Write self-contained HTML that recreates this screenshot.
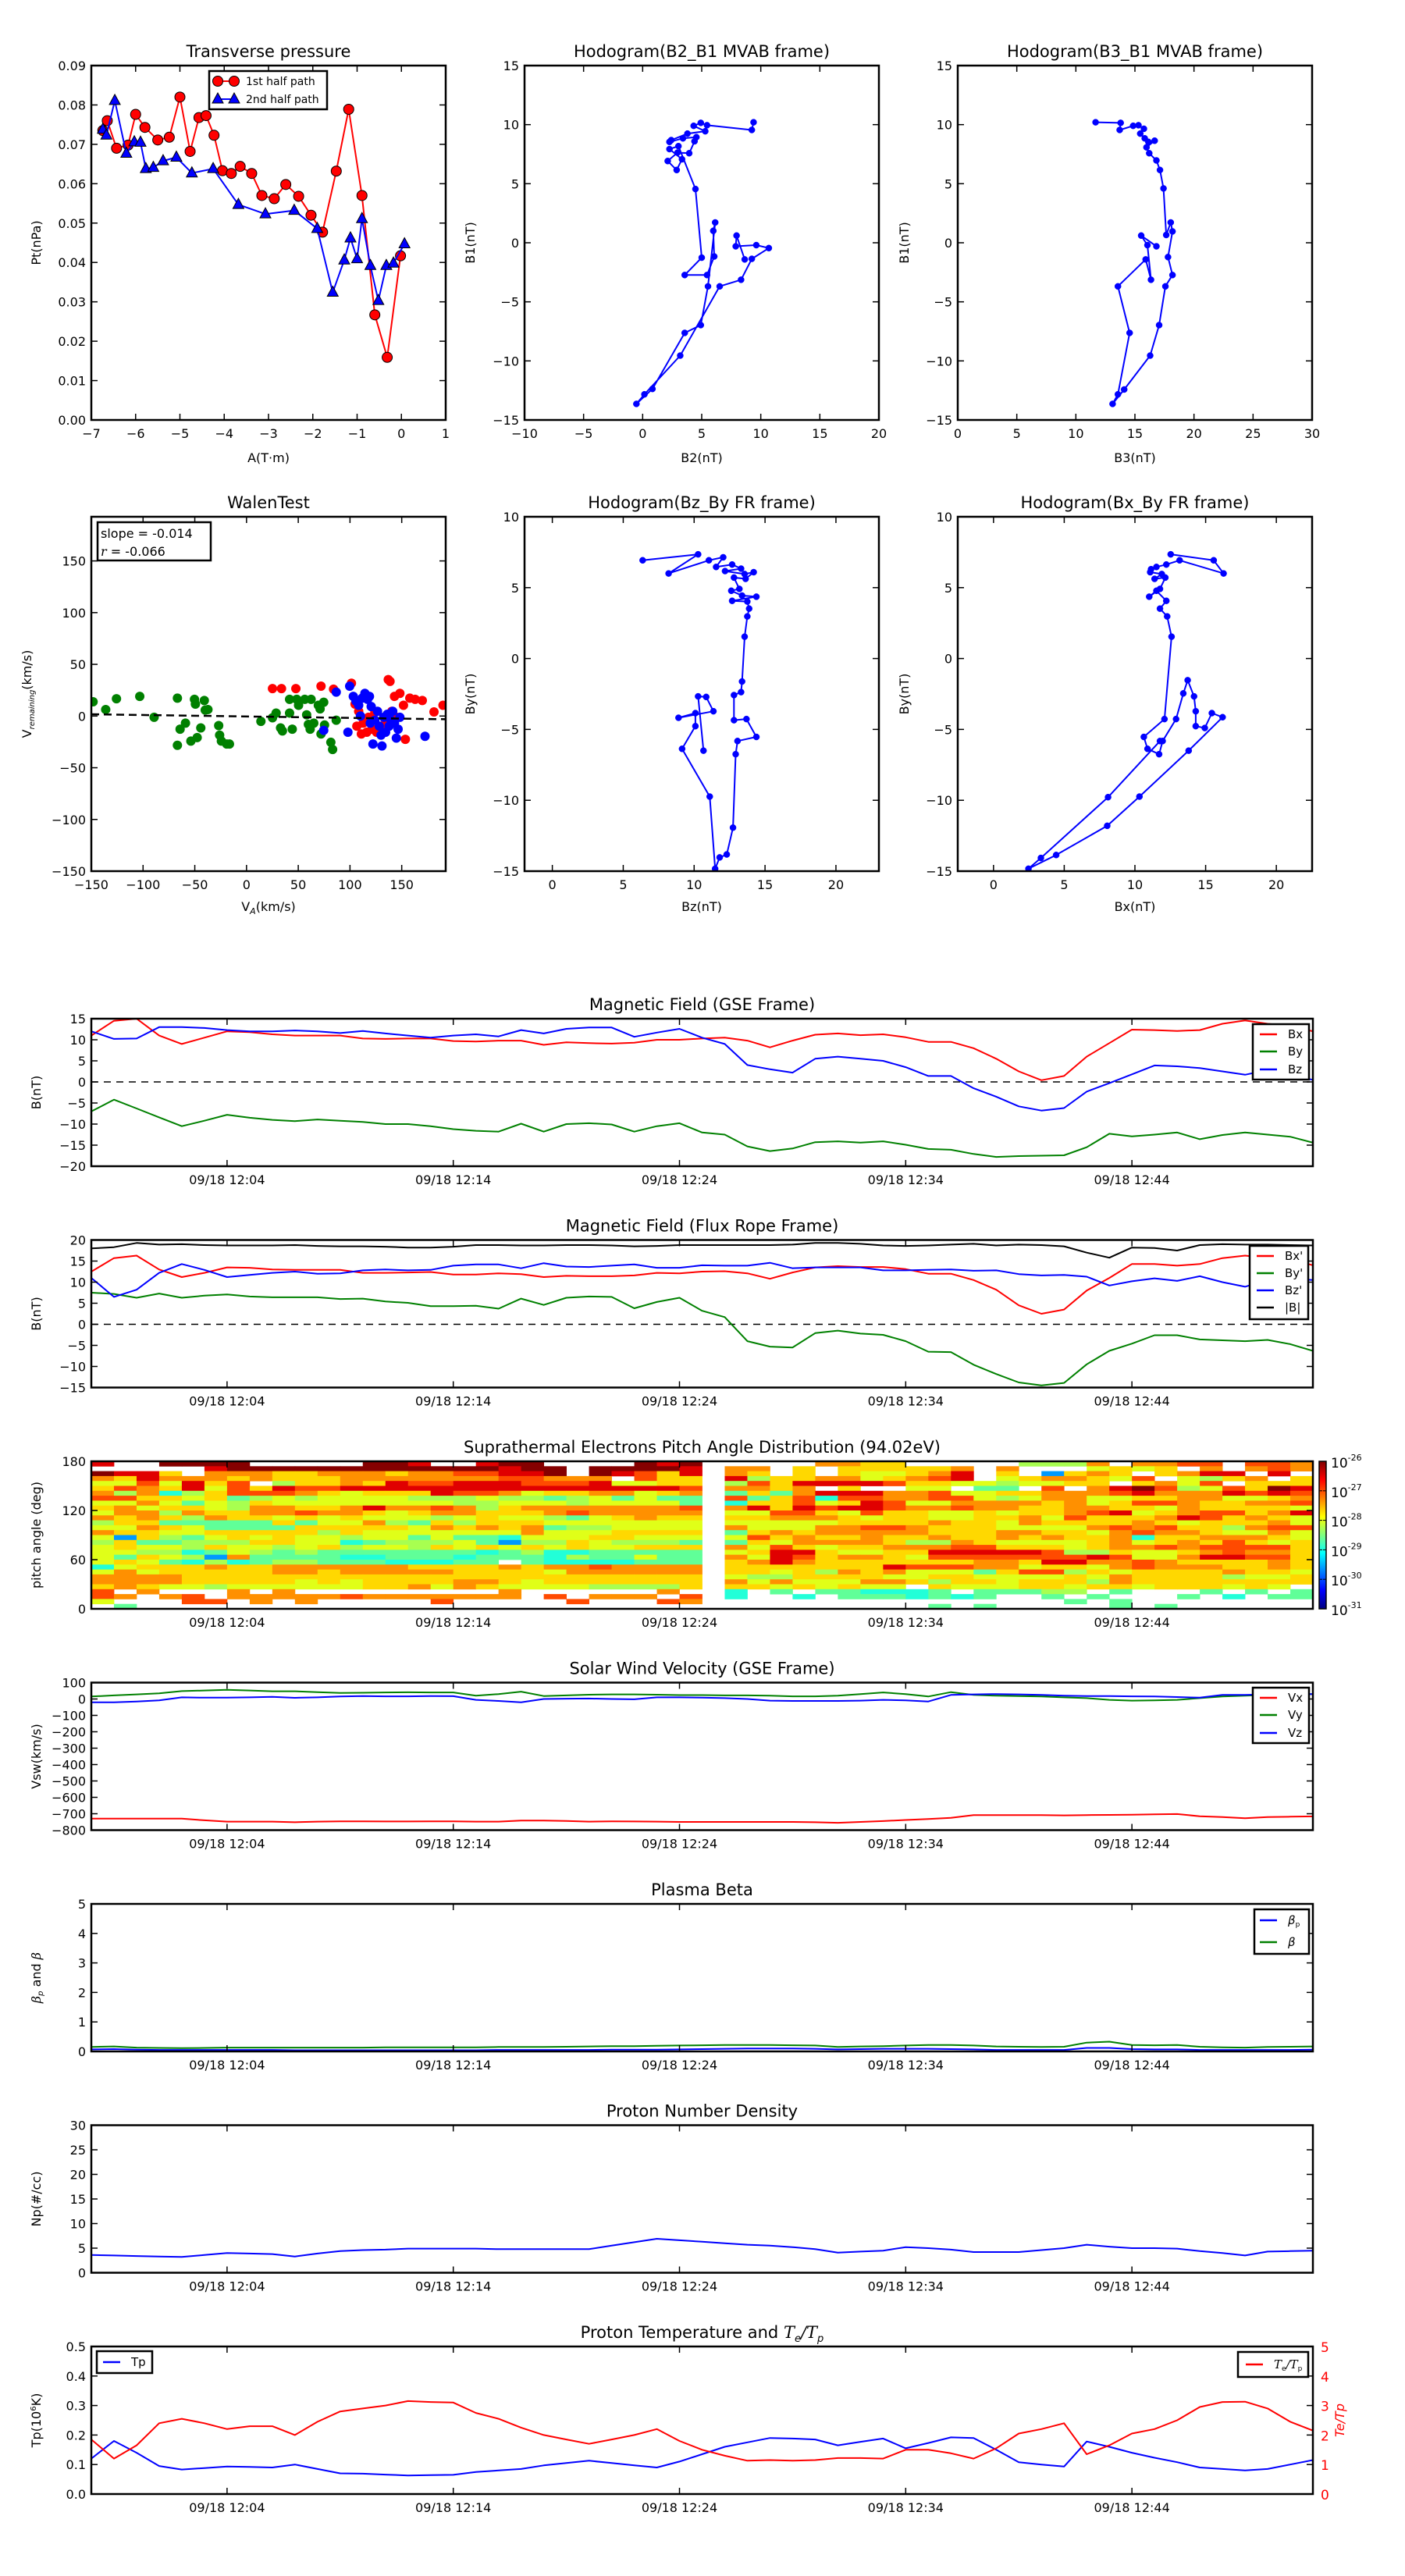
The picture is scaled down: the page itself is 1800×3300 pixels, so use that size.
<!DOCTYPE html>
<html><head><meta charset="utf-8"><title>Flux rope analysis</title>
<style>
html,body{margin:0;padding:0;background:#fff;}
svg{display:block;}
text{font-family:"DejaVu Sans","Liberation Sans",sans-serif;}
</style></head>
<body>
<svg id="fig" xmlns="http://www.w3.org/2000/svg" width="1800" height="3300" viewBox="0 0 1800 3300">
<rect x="0" y="0" width="1800" height="3300" fill="#fff"/>
</svg>
<script>
// ===== DATA =====
// transverse pressure
const ptA1=[-6.74,-6.64,-6.43,-6.17,-6.0,-5.79,-5.5,-5.24,-5.0,-4.77,-4.57,-4.41,-4.23,-4.04,-3.84,-3.64,-3.38,-3.15,-2.87,-2.61,-2.32,-2.04,-1.78,-1.47,-1.19,-0.89,-0.6,-0.32,-0.02];
const ptP1=[0.0735,0.076,0.069,0.0698,0.0776,0.0743,0.0711,0.0718,0.082,0.0682,0.0768,0.0773,0.0723,0.0633,0.0626,0.0644,0.0626,0.057,0.0562,0.0598,0.0568,0.052,0.0477,0.0632,0.0789,0.057,0.0267,0.0159,0.0417];
const ptA2=[-6.74,-6.66,-6.47,-6.21,-6.03,-5.89,-5.77,-5.6,-5.38,-5.08,-4.73,-4.25,-3.68,-3.07,-2.42,-1.9,-1.55,-1.29,-1.15,-1.0,-0.89,-0.7,-0.52,-0.34,-0.18,0.07];
const ptP2=[0.0738,0.0723,0.0811,0.0677,0.0706,0.0705,0.0638,0.0641,0.0658,0.0667,0.0627,0.0638,0.0547,0.0523,0.0532,0.0486,0.0324,0.0406,0.0462,0.0409,0.0511,0.0392,0.0303,0.0392,0.0398,0.0447];
// hodogram B2-B1
const h1B2=[9.39,9.24,5.45,4.92,4.32,5.3,3.79,2.42,2.27,3.41,4.55,4.39,3.94,2.95,2.12,2.88,3.33,2.27,3.03,4.47,5.0,3.56,5.45,6.06,5.98,6.14,5.53,4.92,3.56,0.83,-0.53,0.15,3.18,6.52,8.33,9.24,10.68,9.62,7.88,7.95,8.64];
const h1B1=[10.2,9.55,9.95,10.15,9.9,9.44,9.24,8.69,8.54,8.84,8.94,8.59,7.58,7.63,6.92,6.16,7.07,7.93,8.18,4.55,-1.26,-2.73,-2.73,-1.16,1.01,1.72,-3.69,-6.97,-7.63,-12.37,-13.64,-12.83,-9.55,-3.69,-3.13,-1.36,-0.45,-0.2,-0.3,0.61,-1.41];
// hodogram B3-B1
const h2B3=[11.67,13.79,13.71,14.85,15.3,15.76,15.45,15.83,16.14,16.67,15.98,16.21,16.82,17.12,17.42,17.65,18.03,18.18,17.8,18.18,17.58,17.05,16.29,14.09,13.11,13.56,14.55,13.56,15.91,16.36,16.06,15.53,16.82];
const h2B1=[10.2,10.15,9.55,9.9,9.95,9.65,9.24,8.84,8.54,8.64,8.08,7.58,6.97,6.16,4.6,0.66,1.72,0.96,-1.21,-2.73,-3.69,-6.97,-9.55,-12.42,-13.64,-12.83,-7.63,-3.69,-1.41,-3.13,-0.2,0.61,-0.3];
// walen test
const wGx=[-148.3,-136.1,-125.7,-103.2,-89.3,-66.8,-64.2,-66.8,-59.0,-53.8,-50.3,-49.4,-47.7,-44.2,-40.8,-39.9,-37.3,-26.9,-26.0,-24.3,-19.1,-16.5,13.9,25.1,28.6,32.9,34.7,41.6,41.6,44.2,48.5,50.3,56.3,58.1,59.8,61.5,62.4,65.0,69.4,71.1,72.0,74.6,75.4,81.5,83.2,86.7];
const wGy=[13.8,6.3,16.7,19.0,-1.2,17.3,-12.7,-28.3,-6.9,-24.2,16.2,11.5,-20.8,-11.5,15.0,5.8,6.3,-9.2,-18.5,-24.2,-27.1,-27.1,-5.2,-1.7,2.9,-11.5,-14.4,16.2,2.9,-12.7,16.2,10.4,16.2,1.2,-8.1,-12.7,16.2,-6.9,10.4,6.9,-17.3,13.3,-8.7,-25.4,-32.3,-4.0];
const wRx=[25.1,33.8,47.7,72.0,84.1,101.4,104.9,108.4,106.6,111.0,112.7,116.2,117.9,121.4,124.0,125.7,130.0,134.4,137.0,138.7,140.4,143.0,144.8,148.2,151.7,153.5,157.8,163.0,169.9,181.2,189.9];
const wRy=[26.5,26.5,26.5,28.9,26.0,31.7,11.5,4.6,-9.8,-17.3,-6.9,-15.6,-1.2,-12.7,3.5,-15.6,-9.8,-6.9,35.2,33.5,4.6,19.0,-1.2,21.9,10.4,-22.5,17.3,16.2,15.0,4.0,10.4];
const wBx=[74.6,86.7,98.0,99.7,103.2,105.8,108.4,110.1,111.8,114.4,117.0,118.8,119.6,120.5,122.2,124.0,126.6,128.3,130.0,130.9,132.6,134.4,136.1,137.8,139.6,141.3,143.0,144.8,146.5,148.2,172.5];
const wBy=[-13.8,23.1,-15.6,28.9,19.0,14.4,10.4,0,17.3,21.9,16.2,19.0,-6.9,9.2,-27.1,-4.0,4.6,-9.8,-18.5,-28.9,-1.2,-15.6,1.7,-9.8,-4.0,4.6,-6.9,-21.3,-12.7,-1.2,-19.6];
const walenSlope=-0.014, walenIntercept=-0.4;
// hodogram Bz-By (FR)
const h3Bz=[6.37,10.28,8.2,11.04,12.05,11.55,12.68,13.31,12.18,13.56,14.2,13.63,12.81,13.19,12.62,13.38,14.39,12.68,13.75,13.88,13.75,13.56,13.38,13.31,12.81,12.81,13.69,14.39,13.06,12.93,12.74,12.3,11.8,11.48,11.1,9.15,10.09,10.09,8.9,11.36,10.85,10.28,10.66];
const h3By=[6.93,7.35,6.0,6.93,7.14,6.46,6.63,6.34,6.17,5.96,6.09,5.62,5.71,4.91,4.78,4.44,4.36,4.07,4.02,3.52,2.97,1.54,-1.62,-2.37,-2.58,-4.35,-4.27,-5.53,-5.82,-6.75,-11.93,-13.82,-14.03,-14.83,-9.74,-6.37,-4.77,-3.85,-4.18,-3.72,-2.71,-2.67,-6.5];
// hodogram Bx-By (FR)
const h4Bx=[12.53,15.57,16.27,13.16,12.22,11.52,11.14,11.08,11.9,11.39,12.15,11.77,11.01,11.52,12.22,11.77,12.28,12.59,12.09,10.63,10.89,11.71,11.96,12.91,13.42,13.73,14.18,14.3,14.3,14.94,15.44,16.2,13.8,10.32,8.04,4.43,2.47,3.35,8.1,11.77];
const h4By=[7.35,6.93,6.0,6.93,6.63,6.46,6.3,6.09,5.96,5.62,5.71,4.91,4.36,4.78,4.07,3.52,2.97,1.54,-4.27,-5.53,-6.37,-6.75,-5.82,-4.27,-2.46,-1.53,-2.67,-3.72,-4.77,-4.9,-3.85,-4.14,-6.5,-9.74,-11.8,-13.86,-14.83,-14.07,-9.78,-5.82];
// time series (1-min samples from 11:58)
const timeTickMin=[6,16,26,36,46];
const timeTickLabels=['09/18 12:04','09/18 12:14','09/18 12:24','09/18 12:34','09/18 12:44'];
const gseBx=[11,14.5,15,11,9,10.5,12,11.8,11.3,11,11,11,10.3,10.2,10.3,10.3,9.7,9.6,9.8,9.8,8.8,9.4,9.2,9.1,9.3,10,10,10.3,10.5,9.8,8.2,9.8,11.2,11.5,11.1,11.3,10.6,9.5,9.5,8,5.5,2.5,0.4,1.4,6,9.2,12.4,12.3,12.1,12.3,13.8,14.6,13.8,13.3,12];
const gseBy=[-7,-4.2,-6.3,-8.4,-10.5,-9.2,-7.8,-8.5,-9,-9.3,-8.9,-9.2,-9.5,-10,-10,-10.5,-11.2,-11.6,-11.8,-9.9,-11.8,-10,-9.8,-10.1,-11.8,-10.5,-9.8,-12,-12.5,-15.3,-16.4,-15.8,-14.3,-14.1,-14.4,-14.1,-14.9,-15.9,-16.1,-17.1,-17.8,-17.6,-17.5,-17.4,-15.5,-12.3,-12.9,-12.5,-12,-13.6,-12.6,-12,-12.5,-13,-14.4];
const gseBz=[12,10.2,10.3,13,13,12.8,12.3,12,12,12.2,12,11.6,12.1,11.5,11,10.5,11,11.3,10.8,12.3,11.5,12.6,12.9,12.9,10.7,11.7,12.6,10.5,9,4,3,2.2,5.5,6,5.5,5,3.5,1.4,1.4,-1.5,-3.5,-5.8,-6.8,-6.2,-2.3,-0.3,1.8,3.9,3.7,3.3,2.5,1.7,2.8,1.5,0.5];
const frBx=[12.5,15.7,16.3,13,11.2,12.2,13.5,13.4,13,12.9,12.9,12.9,12.2,12.2,12.3,12.4,11.8,11.8,12.1,11.9,11.2,11.5,11.4,11.4,11.6,12.2,12.1,12.5,12.6,12.1,10.8,12.3,13.5,13.8,13.6,13.6,13.1,12,12,10.5,8.2,4.5,2.5,3.5,8,11,14.3,14.3,13.9,14.3,15.7,16.3,15.7,15.5,14];
const frBy=[7.5,7.2,6.3,7.3,6.3,6.8,7.1,6.6,6.4,6.4,6.4,6,6.1,5.4,5.1,4.3,4.3,4.4,3.7,6.1,4.6,6.3,6.6,6.5,3.8,5.3,6.3,3.2,1.7,-4,-5.3,-5.5,-2.1,-1.5,-2.2,-2.5,-4,-6.5,-6.6,-9.6,-11.8,-13.8,-14.5,-13.9,-9.5,-6.3,-4.6,-2.6,-2.6,-3.6,-3.8,-4,-3.7,-4.7,-6.3];
const frBz=[11,6.5,8.2,12.2,14.3,12.9,11.2,11.7,12.2,12.5,12,12.1,12.8,13,12.8,12.9,13.9,14.2,14.2,13.3,14.5,13.7,13.6,13.9,14.2,13.4,13.4,14,13.9,13.9,14.6,13.3,13.5,13.5,13.5,12.8,12.8,12.9,13,12.7,12.8,11.9,11.6,11.7,11.3,9.2,10.2,10.9,10.3,11.4,10,8.9,10.6,10.8,10.5];
const frBt=[18,18.3,19.3,18.9,19,18.8,18.7,18.7,18.7,18.8,18.6,18.5,18.5,18.4,18.2,18.2,18.4,18.8,18.8,18.7,18.7,18.8,18.8,18.7,18.5,18.6,18.8,18.8,18.8,18.8,18.8,18.9,19.3,19.3,19.1,18.7,18.6,18.7,18.9,19.1,18.7,18.9,18.8,18.5,17,15.8,18.2,18.1,17.5,18.8,19,18.9,18.9,18.8,18.7];
const vx=[-730,-730,-730,-730,-730,-740,-748,-748,-748,-752,-748,-746,-746,-747,-747,-746,-746,-748,-748,-742,-742,-744,-748,-746,-747,-748,-750,-750,-750,-750,-750,-750,-752,-755,-750,-745,-738,-732,-725,-708,-708,-708,-708,-710,-708,-707,-706,-704,-702,-715,-720,-727,-720,-718,-716];
const vy=[15,22,28,35,48,52,56,52,47,47,42,37,38,40,41,40,40,20,30,45,18,22,26,28,28,26,24,24,22,22,20,16,16,20,30,40,30,15,42,25,20,18,15,10,5,-5,-10,-8,-5,5,15,20,25,28,30];
const vz=[-20,-20,-15,-8,10,8,8,10,13,7,10,15,18,16,16,18,17,-5,-12,-20,0,2,3,0,-2,10,10,8,5,0,-10,-12,-12,-12,-10,-5,-8,-15,25,28,30,28,25,20,18,18,16,15,12,8,25,25,28,30,30];
const betaP=[0.07,0.08,0.06,0.05,0.05,0.05,0.05,0.05,0.05,0.04,0.04,0.04,0.04,0.04,0.04,0.04,0.04,0.04,0.05,0.05,0.05,0.05,0.05,0.06,0.06,0.06,0.07,0.08,0.09,0.1,0.1,0.1,0.09,0.07,0.08,0.09,0.09,0.09,0.08,0.07,0.05,0.05,0.05,0.05,0.12,0.12,0.08,0.07,0.07,0.05,0.05,0.05,0.05,0.05,0.06];
const betaT=[0.15,0.17,0.13,0.12,0.11,0.12,0.13,0.13,0.13,0.13,0.13,0.13,0.13,0.14,0.14,0.14,0.14,0.14,0.15,0.15,0.15,0.16,0.17,0.18,0.18,0.19,0.2,0.21,0.22,0.22,0.22,0.21,0.2,0.15,0.17,0.18,0.2,0.22,0.22,0.2,0.17,0.16,0.15,0.16,0.3,0.33,0.22,0.21,0.22,0.16,0.14,0.13,0.15,0.16,0.17];
const np=[3.6,3.5,3.4,3.3,3.2,3.6,4.0,3.9,3.8,3.3,3.9,4.4,4.6,4.7,4.9,4.9,4.9,4.9,4.8,4.8,4.8,4.8,4.8,5.5,6.2,6.9,6.6,6.3,6.0,5.7,5.5,5.2,4.8,4.1,4.3,4.5,5.2,5.0,4.7,4.2,4.2,4.2,4.6,5.0,5.7,5.3,5.0,5.0,4.9,4.4,4.0,3.5,4.3,4.4,4.5];
const tp=[0.12,0.18,0.14,0.095,0.083,0.088,0.093,0.092,0.09,0.1,0.085,0.07,0.069,0.066,0.063,0.064,0.065,0.075,0.08,0.085,0.097,0.105,0.113,0.105,0.097,0.09,0.11,0.135,0.16,0.175,0.19,0.188,0.185,0.165,0.177,0.188,0.155,0.173,0.192,0.19,0.15,0.108,0.1,0.093,0.178,0.16,0.14,0.123,0.108,0.09,0.085,0.08,0.085,0.1,0.115];
const teTp=[1.85,1.2,1.65,2.4,2.55,2.4,2.2,2.3,2.3,2.0,2.45,2.8,2.9,3.0,3.15,3.12,3.1,2.75,2.55,2.25,2.0,1.85,1.7,1.85,2.0,2.2,1.8,1.5,1.3,1.13,1.15,1.13,1.15,1.22,1.22,1.2,1.5,1.5,1.38,1.2,1.55,2.05,2.2,2.4,1.35,1.65,2.05,2.2,2.5,2.95,3.12,3.13,2.9,2.45,2.15];
// pitch-angle distribution: 30 rows (top=174-180 deg), 54 minute columns; '.'=no data, 0..9,a = log-flux level
const padRows=[
"9..aaaa.....aa9..9aa....a9a|....7766.....4447.7788.887",
".....9aaaaaaaaaaaa9aa.aaaa9|77.6.666667.7...5656.7.787",
"a996.777667776778899a.a9869|76.6.655679.6.1676.6799.9.",
"76977767666777777788777.866|94667756789.5677658.5467.6",
"5585968.4667698899988895566|48699998665545566.6758.666",
"687695869889999999999999998|7767.6..55.33.8.79a84586a9",
"747246888765666988756677567|36379997785566777897779898",
"886656345455554445443453533|83682887788545775566775567",
"557535465555555544555455553|26685698557777675688766778",
"675665477667977874677777778|79698998778776677665766665",
"577476677877656776667877777|55886586655656678956788679",
"767647665656555456554356766|66777656655667586667986765",
"466333336355743646665555555|55555666676657666676566675",
"557653333666665767673445555|75557788766655557878664788",
"766556666646555555575556666|36767777766677665787765575",
"516435656554553533255566555|58676676676676766726677765",
"463344466552344453144654443|36577776447655556756768656",
"565546554564554656565655666|75865667778866656778788886",
"554423543433333332342233333|56996556699999844655678776",
"536541733332233323332433533|75986776588888889855799886",
"565324234433322233.32222333|67976666666776997787666676",
"256667667777776666767787777|66666669888775665787776676",
"575666667767777766665777777|66564767555368846566667665",
"777766666666666666666666666|54466665566555565766664556",
"777766666565666677656666666|75755577646656664766666666",
"676554555555667576555544446|66565655.6555665665666565",
"8.7...7.7.........7......7.|2.3.332223.33344.3...3.3.3",
"87.78.7777787777777.8.777.8|2..2.3332323..3.3...3.2.33",
"5...88.7.7.....8.....8...87|...............3.3........",
".3.........................|.........3.3.....3.3......."
];
const padLevelColors=['#0030ff','#0099ff','#22ffd8','#60ff98','#a8ff50','#e0ff18','#ffd800','#ff9000','#ff4a00','#e00000','#850000'];

// ===== HELPERS =====
const svg=document.getElementById('fig');
const NS='http://www.w3.org/2000/svg';
function mk(tag,attrs,parent){const e=document.createElementNS(NS,tag);for(const k in attrs)e.setAttribute(k,attrs[k]);(parent||svg).appendChild(e);return e;}
function lin(d0,d1,r0,r1){return v=>r0+(v-d0)*(r1-r0)/(d1-d0);}
function neg(v,d){const s=(d===undefined)?String(Math.abs(v)):Math.abs(v).toFixed(d);return (v<0?'\u2212':'')+s;}
function txt(s,x,y,size,anchor,parent,fill){const t=mk('text',{x:x,y:y,'font-size':size,'text-anchor':anchor||'start',fill:fill||'#000'},parent);t.textContent=s;return t;}
function range(a,b,st){const r=[];for(let v=a;v<=b+1e-9;v+=st)r.push(Math.round(v*1000)/1000);return r;}
let clipId=0;
function makeAxes(name,x0,y0,x1,y1,xd,yd){
  const g=mk('g',{});
  
  
  const cp=mk('clipPath',{id:'cp'+(++clipId)},g);
  mk('rect',{x:x0,y:y0,width:x1-x0,height:y1-y0},cp);
  const dg=mk('g',{'clip-path':'url(#cp'+clipId+')'},g);
  
  
  return {g:g,dg:dg,x0:x0,y0:y0,x1:x1,y1:y1,sx:lin(xd[0],xd[1],x0,x1),sy:lin(yd[0],yd[1],y1,y0)};
}
function ticks(ax,xt,xl,yt,yl,opt){
  opt=opt||{};
  xt.forEach((v,i)=>{const x=ax.sx(v);
    mk('line',{x1:x,x2:x,y1:ax.y1,y2:ax.y1-8,stroke:'#000','stroke-width':1.5},ax.g);
    mk('line',{x1:x,x2:x,y1:ax.y0,y2:ax.y0+8,stroke:'#000','stroke-width':1.5},ax.g);
    const t=txt(xl[i],x,ax.y1+23,16,'middle',ax.g);
    
    
  });
  yt.forEach((v,i)=>{const y=ax.sy(v);
    mk('line',{x1:ax.x0,x2:ax.x0+8,y1:y,y2:y,stroke:'#000','stroke-width':1.5},ax.g);
    if(!opt.noRight) mk('line',{x1:ax.x1,x2:ax.x1-8,y1:y,y2:y,stroke:'#000','stroke-width':1.5},ax.g);
    const t=txt(yl[i],ax.x0-7,y+6,16,'end',ax.g);
    
    
  });
}
function frame(ax){
  const r=mk('rect',{x:ax.x0,y:ax.y0,width:ax.x1-ax.x0,height:ax.y1-ax.y0,fill:'none',stroke:'#000','stroke-width':2.5},ax.g);
  
  
}
function title(ax,s){const t=txt(s,(ax.x0+ax.x1)/2,ax.y0-11,21,'middle',ax.g);return t;}
function ylabel(ax,s,x,fill){const cy=(ax.y0+ax.y1)/2;const t=mk('text',{x:x,y:cy,'font-size':16,'text-anchor':'middle',fill:fill||'#000',transform:'rotate(-90 '+x+' '+cy+')'},ax.g);t.textContent=s;return t;}
function xlabel(ax,s,y){const t=txt(s,(ax.x0+ax.x1)/2,y,16,'middle',ax.g);return t;}
function poly(ax,xs,ys,color,w,name){
  const pts=xs.map((x,i)=>ax.sx(x).toFixed(1)+','+ax.sy(ys[i]).toFixed(1)).join(' ');
  const p=mk('polyline',{points:pts,fill:'none',stroke:color,'stroke-width':w||2,'stroke-linejoin':'round'},ax.dg);
  
  
  return p;
}
function dots(ax,xs,ys,color,r,name){
  xs.forEach((x,i)=>{
    const c=mk('circle',{cx:ax.sx(x),cy:ax.sy(ys[i]),r:r,fill:color,stroke:color,'stroke-width':0.5},ax.dg);
    
    
  });
}
function legendBox(ax,x0,y0,x1,y1,name){
  const r=mk('rect',{x:x0,y:y0,width:x1-x0,height:y1-y0,fill:'#fff',stroke:'#000','stroke-width':2.5},ax.g);
  
  
}
function legendLine(ax,x,y,color,label,name,italicHTML){
  const l=mk('line',{x1:x,x2:x+22,y1:y,y2:y,stroke:color,'stroke-width':2.5},ax.g);
  
  
  const t=txt(label,x+36,y+5,15,'start',ax.g);
  
  
  return t;
}
const idx=gseBx.map((_,i)=>i);
const timeX=[0,54], TL=117, TR=1682, PH=189;
const tops=[1305,1588.5,1872,2155.5,2439,2722.5,3006];
function timeAxes(name,i,yd,yt,yl,ttl,ylab,opt){
  const ax=makeAxes(name,TL,tops[i],TR,tops[i]+PH,timeX,yd);
  ticks(ax,timeTickMin,timeTickLabels,yt,yl,opt);
  if(ttl) title(ax,ttl);
  if(ylab) ylabel(ax,ylab,52);
  return ax;
}
function zeroLine(ax){const l=mk('line',{x1:ax.x0,x2:ax.x1,y1:ax.sy(0),y2:ax.sy(0),stroke:'#000','stroke-width':1.5,'stroke-dasharray':'9,7'},ax.dg);}

// ===== PANEL 1: transverse pressure =====
{
 const ax=makeAxes('transverse-pressure-chart',117,84,571,538,[-7,1],[0,0.09]);
 ticks(ax,range(-7,1,1),range(-7,1,1).map(v=>neg(v)),range(0,0.09,0.01),range(0,0.09,0.01).map(v=>v.toFixed(2)));
 title(ax,'Transverse pressure');
 ylabel(ax,'Pt(nPa)',52);
 xlabel(ax,'A(T\u00b7m)',592);
 poly(ax,ptA1,ptP1,'#ff0000',2,'first-half-path-line');
 ptA1.forEach((a,i)=>{const c=mk('circle',{cx:ax.sx(a),cy:ax.sy(ptP1[i]),r:6.5,fill:'#ff0000',stroke:'#000','stroke-width':1},ax.dg);
   
   });
 poly(ax,ptA2,ptP2,'#0000ff',2,'second-half-path-line');
 ptA2.forEach((a,i)=>{const x=ax.sx(a),y=ax.sy(ptP2[i]);
   const p=mk('polygon',{points:(x)+','+(y-8)+' '+(x-7)+','+(y+5)+' '+(x+7)+','+(y+5),fill:'#0000ff',stroke:'#000','stroke-width':1},ax.dg);
   
   });
 frame(ax);
 legendBox(ax,268,91,419,140,'pressure-legend');
 const l1=mk('line',{x1:279,x2:300,y1:104,y2:104,stroke:'#ff0000','stroke-width':2},ax.g);
 
 
 [279,300].forEach(x=>{const c=mk('circle',{cx:x,cy:104,r:6.5,fill:'#ff0000',stroke:'#000'},ax.g);});
 const t1=txt('1st half path',315,109,14,'start',ax.g);
 
 
 const l2=mk('line',{x1:279,x2:300,y1:127,y2:127,stroke:'#0000ff','stroke-width':2},ax.g);
 
 
 [279,300].forEach(x=>{const p=mk('polygon',{points:x+',119 '+(x-7)+',132 '+(x+7)+',132',fill:'#0000ff',stroke:'#000'},ax.g);});
 const t2=txt('2nd half path',315,132,14,'start',ax.g);
 
 
}
// ===== Hodogram B2_B1 =====
{
 const ax=makeAxes('hodogram-b2-b1-chart',672,84,1126,538,[-10,20],[-15,15]);
 ticks(ax,range(-10,20,5),range(-10,20,5).map(v=>neg(v)),range(-15,15,5),range(-15,15,5).map(v=>neg(v)));
 title(ax,'Hodogram(B2_B1 MVAB frame)');
 ylabel(ax,'B1(nT)',608);
 xlabel(ax,'B2(nT)',592);
 poly(ax,h1B2,h1B1,'#0000ff',2,'b2-b1-path');
 dots(ax,h1B2,h1B1,'#0000ff',4,'b2-b1-point');
 frame(ax);
}
// ===== Hodogram B3_B1 =====
{
 const ax=makeAxes('hodogram-b3-b1-chart',1227,84,1681,538,[0,30],[-15,15]);
 ticks(ax,range(0,30,5),range(0,30,5).map(v=>neg(v)),range(-15,15,5),range(-15,15,5).map(v=>neg(v)));
 title(ax,'Hodogram(B3_B1 MVAB frame)');
 ylabel(ax,'B1(nT)',1164);
 xlabel(ax,'B3(nT)',592);
 poly(ax,h2B3,h2B1,'#0000ff',2,'b3-b1-path');
 dots(ax,h2B3,h2B1,'#0000ff',4,'b3-b1-point');
 frame(ax);
}
// ===== Walen test =====
{
 const ax=makeAxes('walen-test-chart',117,662,571,1116,[-150,192.5],[-150,192.7]);
 ticks(ax,range(-150,150,50),range(-150,150,50).map(v=>neg(v)),range(-150,150,50),range(-150,150,50).map(v=>neg(v)));
 title(ax,'WalenTest');
 const yl=ylabel(ax,'',40);
 yl.textContent='';
 const ts1=mk('tspan',{},yl); ts1.textContent='V';
 const ts2=mk('tspan',{'font-size':10,'font-style':'italic',dy:4}); ts2.textContent='remaining'; yl.appendChild(ts2);
 const ts3=mk('tspan',{dy:-4}); ts3.textContent='(km/s)'; yl.appendChild(ts3);
 const xl=xlabel(ax,'',1167);
 const a1=mk('tspan',{},xl); a1.textContent='V';
 const a2=mk('tspan',{'font-size':11,'font-style':'italic',dy:4},xl); a2.textContent='A';
 const a3=mk('tspan',{dy:-4},xl); a3.textContent='(km/s)';
 wGx.forEach((x,i)=>{const c=mk('circle',{cx:ax.sx(x),cy:ax.sy(wGy[i]),r:6,fill:'#008000'},ax.dg);});
 wRx.forEach((x,i)=>{const c=mk('circle',{cx:ax.sx(x),cy:ax.sy(wRy[i]),r:6,fill:'#ff0000'},ax.dg);});
 wBx.forEach((x,i)=>{const c=mk('circle',{cx:ax.sx(x),cy:ax.sy(wBy[i]),r:6,fill:'#0000ff'},ax.dg);});
 const fl=mk('line',{x1:ax.sx(-150),x2:ax.sx(192.5),y1:ax.sy(walenSlope*-150+walenIntercept),y2:ax.sy(walenSlope*192.5+walenIntercept),stroke:'#000','stroke-width':2.5,'stroke-dasharray':'10,6'},ax.dg);
 
 
 frame(ax);
 legendBox(ax,125,669,270,718,'walen-stats-box');
 const s1=txt('slope = -0.014',129,689,16,'start',ax.g);
 
 
 const s2=txt('',129,712,16,'start',ax.g);
 
 
 const r1=mk('tspan',{'font-style':'italic','font-family':'DejaVu Serif, serif'},s2); r1.textContent='r';
 const r2=mk('tspan',{},s2); r2.textContent=' = -0.066';
}
// ===== Hodogram Bz_By =====
{
 const ax=makeAxes('hodogram-bz-by-chart',672,662,1126,1116,[-1.96,23.03],[-15,10]);
 ticks(ax,range(0,20,5),range(0,20,5).map(v=>neg(v)),range(-15,10,5),range(-15,10,5).map(v=>neg(v)));
 title(ax,'Hodogram(Bz_By FR frame)');
 ylabel(ax,'By(nT)',608);
 xlabel(ax,'Bz(nT)',1167);
 poly(ax,h3Bz,h3By,'#0000ff',2,'bz-by-path');
 dots(ax,h3Bz,h3By,'#0000ff',4,'bz-by-point');
 frame(ax);
}
// ===== Hodogram Bx_By =====
{
 const ax=makeAxes('hodogram-bx-by-chart',1227,662,1681,1116,[-2.53,22.53],[-15,10]);
 ticks(ax,range(0,20,5),range(0,20,5).map(v=>neg(v)),range(-15,10,5),range(-15,10,5).map(v=>neg(v)));
 title(ax,'Hodogram(Bx_By FR frame)');
 ylabel(ax,'By(nT)',1164);
 xlabel(ax,'Bx(nT)',1167);
 poly(ax,h4Bx,h4By,'#0000ff',2,'bx-by-path');
 dots(ax,h4Bx,h4By,'#0000ff',4,'bx-by-point');
 frame(ax);
}
// ===== Magnetic field GSE =====
{
 const yt=range(-20,15,5);
 const ax=timeAxes('magnetic-field-gse-chart',0,[-20,15],yt,yt.map(v=>neg(v)),'Magnetic Field (GSE Frame)','B(nT)');
 zeroLine(ax);
 poly(ax,idx,gseBx,'#ff0000',2,'gse-bx-line');
 poly(ax,idx,gseBy,'#008000',2,'gse-by-line');
 poly(ax,idx,gseBz,'#0000ff',2,'gse-bz-line');
 frame(ax);
 legendBox(ax,1605,1312,1677,1383,'gse-legend');
 legendLine(ax,1614,1325,'#ff0000','Bx','legend-bx');
 legendLine(ax,1614,1347,'#008000','By','legend-by');
 legendLine(ax,1614,1370,'#0000ff','Bz','legend-bz');
}
// ===== Magnetic field FR =====
{
 const yt=range(-15,20,5);
 const ax=timeAxes('magnetic-field-flux-rope-chart',1,[-15,20],yt,yt.map(v=>neg(v)),'Magnetic Field (Flux Rope Frame)','B(nT)');
 zeroLine(ax);
 poly(ax,idx,frBx,'#ff0000',2,'fr-bx-line');
 poly(ax,idx,frBy,'#008000',2,'fr-by-line');
 poly(ax,idx,frBz,'#0000ff',2,'fr-bz-line');
 poly(ax,idx,frBt,'#000000',2,'fr-btotal-line');
 frame(ax);
 legendBox(ax,1601,1596,1676,1690,'flux-rope-legend');
 legendLine(ax,1610,1609,'#ff0000',"Bx'",'legend-bx-prime');
 legendLine(ax,1610,1631,'#008000',"By'",'legend-by-prime');
 legendLine(ax,1610,1653,'#0000ff',"Bz'",'legend-bz-prime');
 legendLine(ax,1610,1675,'#000000','|B|','legend-btotal');
}
// ===== PAD =====
{
 const yt=[0,60,120,180];
 const ax=timeAxes('pitch-angle-distribution-chart',2,[0,180],yt,yt.map(String),'Suprathermal Electrons Pitch Angle Distribution (94.02eV)','pitch angle (deg)');
 padRows.forEach((row,r)=>{
   const parts=row.split('|');
   const full=parts[0].padEnd(27,'.').slice(0,27)+'.'+parts[1].padEnd(26,'.').slice(0,26);
   for(let c=0;c<54;c++){
     const ch=full[c]; if(ch==='.') continue;
     const lev=ch==='a'?10:parseInt(ch,10);
     const a0=180-6*(r+1), a1=180-6*r;
     const x=ax.sx(c), y=ax.sy(a1);
     const cell=mk('rect',{x:x.toFixed(2),y:y.toFixed(2),width:(ax.sx(c+1)-x+0.4).toFixed(2),height:(ax.sy(a0)-y+0.4).toFixed(2),fill:padLevelColors[lev]},ax.dg);
     
     
   }
 });
 frame(ax);
 // colorbar
 const defs=mk('defs',{});
 const lg=mk('linearGradient',{id:'jet',x1:0,y1:1,x2:0,y2:0},defs);
 ['#00007f','#0000ff','#007fff','#00ffff','#7fff7f','#ffff00','#ff7f00','#ff0000','#7f0000'].forEach((c,i)=>mk('stop',{offset:(i/8),'stop-color':c},lg));
 const cb=mk('rect',{x:1690,y:tops[2],width:9,height:PH,fill:'url(#jet)',stroke:'#000','stroke-width':1.5});
 
 
 const cbExp=['-26','-27','-28','-29','-30','-31'];
 cbExp.forEach((e,i)=>{
   const y=tops[2]+i*PH/5;
   mk('line',{x1:1690,x2:1694,y1:y,y2:y,stroke:'#000'});
   mk('line',{x1:1699,x2:1695,y1:y,y2:y,stroke:'#000'});
   const t=txt('10',1705,y+8,17,'start');
   
   
   const s=mk('tspan',{'font-size':11,dy:-9},t); s.textContent=e;
 });
}
// ===== Velocity =====
{
 const yt=range(-800,100,100);
 const ax=timeAxes('solar-wind-velocity-chart',3,[-800,100],yt,yt.map(v=>neg(v)),'Solar Wind Velocity (GSE Frame)','Vsw(km/s)');
 poly(ax,idx,vx,'#ff0000',2,'vx-line');
 poly(ax,idx,vy,'#008000',2,'vy-line');
 poly(ax,idx,vz,'#0000ff',2,'vz-line');
 frame(ax);
 legendBox(ax,1605,2162,1677,2233,'velocity-legend');
 legendLine(ax,1614,2175,'#ff0000','Vx','legend-vx');
 legendLine(ax,1614,2197,'#008000','Vy','legend-vy');
 legendLine(ax,1614,2220,'#0000ff','Vz','legend-vz');
}
// ===== Plasma beta =====
{
 const yt=range(0,5,1);
 const ax=timeAxes('plasma-beta-chart',4,[0,5],yt,yt.map(String),'Plasma Beta',null);
 const yl=ylabel(ax,'',52);
 const b1=mk('tspan',{'font-style':'italic','font-family':'DejaVu Serif, serif'},yl); b1.textContent='\u03b2';
 const b2=mk('tspan',{'font-size':10,'font-style':'italic',dy:3},yl); b2.textContent='p';
 const b3=mk('tspan',{dy:-3},yl); b3.textContent=' and ';
 const b4=mk('tspan',{'font-style':'italic','font-family':'DejaVu Serif, serif'},yl); b4.textContent='\u03b2';
 poly(ax,idx,betaT,'#008000',2,'beta-line');
 poly(ax,idx,betaP,'#0000ff',2,'beta-p-line');
 frame(ax);
 legendBox(ax,1607,2446,1677,2503,'beta-legend');
 const t1=legendLine(ax,1614,2460,'#0000ff','','legend-beta-p');
 const u1=mk('tspan',{'font-style':'italic'},t1); u1.textContent='\u03b2';
 const u2=mk('tspan',{'font-size':9,dy:3},t1); u2.textContent='p';
 const t2=legendLine(ax,1614,2488,'#008000','','legend-beta');
 const u3=mk('tspan',{'font-style':'italic'},t2); u3.textContent='\u03b2';
}
// ===== Density =====
{
 const yt=range(0,30,5);
 const ax=timeAxes('proton-density-chart',5,[0,30],yt,yt.map(String),'Proton Number Density','Np(#/cc)');
 poly(ax,idx,np,'#0000ff',2,'density-line');
 frame(ax);
}
// ===== Temperature =====
{
 const yt=range(0,0.5,0.1);
 const ax=timeAxes('proton-temperature-chart',6,[0,0.5],yt,yt.map(v=>v.toFixed(1)),null,null,{noRight:true});
 const tt=title(ax,'Proton Temperature and ');
 const q1=mk('tspan',{'font-style':'italic','font-family':'DejaVu Serif, serif'},tt); q1.textContent='T';
 const q2=mk('tspan',{'font-size':13,dy:5,'font-style':'italic'},tt); q2.textContent='e';
 const q3=mk('tspan',{dy:-5,'font-style':'italic','font-family':'DejaVu Serif, serif'},tt); q3.textContent='/T';
 const q4=mk('tspan',{'font-size':13,dy:5,'font-style':'italic'},tt); q4.textContent='p';
 const yl=ylabel(ax,'',52);
 const k1=mk('tspan',{},yl); k1.textContent='Tp(10';
 const k2=mk('tspan',{'font-size':10,dy:-6},yl); k2.textContent='6';
 const k3=mk('tspan',{dy:6},yl); k3.textContent='K)';
 const sy2=lin(0,5,ax.y1,ax.y0);
 [0,1,2,3,4,5].forEach(v=>{const y=sy2(v);
   mk('line',{x1:ax.x1,x2:ax.x1-8,y1:y,y2:y,stroke:'#000','stroke-width':1.5},ax.g);
   const t=txt(String(v),1692,y+7,17,'start',ax.g,'#ff0000');
   
   
 });
 const cy=(ax.y0+ax.y1)/2;
 const ry=mk('text',{x:1722,y:cy,'font-size':16,'text-anchor':'middle',fill:'#ff0000','font-style':'italic','font-family':'DejaVu Serif, serif',transform:'rotate(-90 1722 '+cy+')'},ax.g);
 
 
 ry.textContent='Te/Tp';
 poly(ax,idx,tp,'#0000ff',2,'tp-line');
 const pts=idx.map(i=>ax.sx(i).toFixed(1)+','+sy2(teTp[i]).toFixed(1)).join(' ');
 const rl=mk('polyline',{points:pts,fill:'none',stroke:'#ff0000','stroke-width':2,'stroke-linejoin':'round'},ax.dg);
 
 
 frame(ax);
 legendBox(ax,124,3012,195,3040,'tp-legend');
 legendLine(ax,132,3026,'#0000ff','Tp','legend-tp');
 legendBox(ax,1586,3013,1676,3045,'te-tp-legend');
 const lt=legendLine(ax,1596,3029,'#ff0000','','legend-te-tp');
 const w1=mk('tspan',{'font-style':'italic','font-family':'DejaVu Serif, serif'},lt); w1.textContent='T';
 const w2=mk('tspan',{'font-size':9,dy:3},lt); w2.textContent='e';
 const w3=mk('tspan',{dy:-3,'font-style':'italic','font-family':'DejaVu Serif, serif'},lt); w3.textContent='/T';
 const w4=mk('tspan',{'font-size':9,dy:3},lt); w4.textContent='p';
}
</script>
</body></html>
